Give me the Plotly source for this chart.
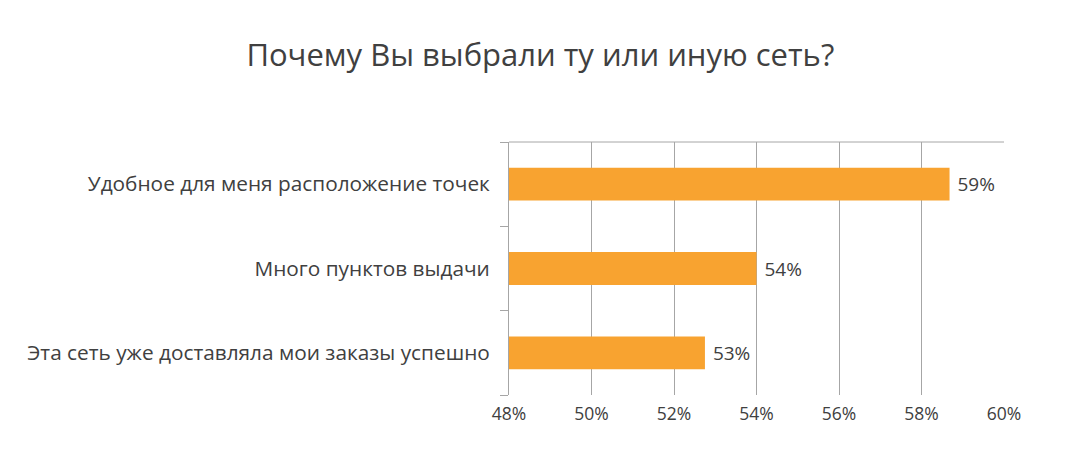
import plotly.graph_objects as go

categories = [
    "Удобное для меня расположение точек",
    "Много пунктов выдачи",
    "Эта сеть уже доставляла мои заказы успешно",
]
values = [58.68, 54.0, 52.75]
value_labels = ["59%", "54%", "53%"]
tick_vals = [48, 50, 52, 54, 56, 58, 60]
tick_text = ["48%", "50%", "52%", "54%", "56%", "58%", "60%"]

FONT = "Open Sans"
TXT = "#404040"
GRID = "#A6A6A6"
BASE = 48

fig = go.Figure(
    go.Bar(
        x=[v - BASE for v in values],
        y=categories,
        orientation="h",
        base=BASE,
        marker=dict(color="#F8A330", line=dict(width=0)),
        width=0.39,
        text=[" " + t for t in value_labels],
        textposition="outside",
        textfont=dict(family=FONT, size=19, color=TXT),
        cliponaxis=False,
        hoverinfo="skip",
    )
)

fig.update_layout(
    width=1070,
    height=461,
    margin=dict(l=509, r=66, t=142, b=66),
    paper_bgcolor="white",
    plot_bgcolor="white",
    showlegend=False,
    title=dict(
        text="Почему Вы выбрали ту или иную сеть?",
        font=dict(family=FONT, size=31, color=TXT),
        x=0.505,
        xanchor="center",
        y=0.88,
        yanchor="middle",
    ),
    xaxis=dict(
        range=[48, 60],
        tickvals=tick_vals,
        ticktext=tick_text,
        showgrid=True,
        gridcolor=GRID,
        gridwidth=1,
        zeroline=False,
        showline=False,
        ticks="",
        tickfont=dict(family=FONT, size=17.5, color=TXT),
        ticklabelstandoff=6,
    ),
    yaxis=dict(
        categoryorder="array",
        categoryarray=categories[::-1],
        showline=True,
        linecolor=GRID,
        linewidth=1,
        ticks="outside",
        tickson="boundaries",
        ticklen=8,
        tickcolor=GRID,
        showgrid=False,
        tickfont=dict(family=FONT, size=20.8, color=TXT),
        ticklabelstandoff=14,
    ),
    shapes=[
        dict(
            type="line",
            xref="x domain",
            yref="y domain",
            x0=0,
            x1=1,
            y0=1,
            y1=1,
            line=dict(color=GRID, width=1),
        )
    ],
)

fig.write_html("out.html")
